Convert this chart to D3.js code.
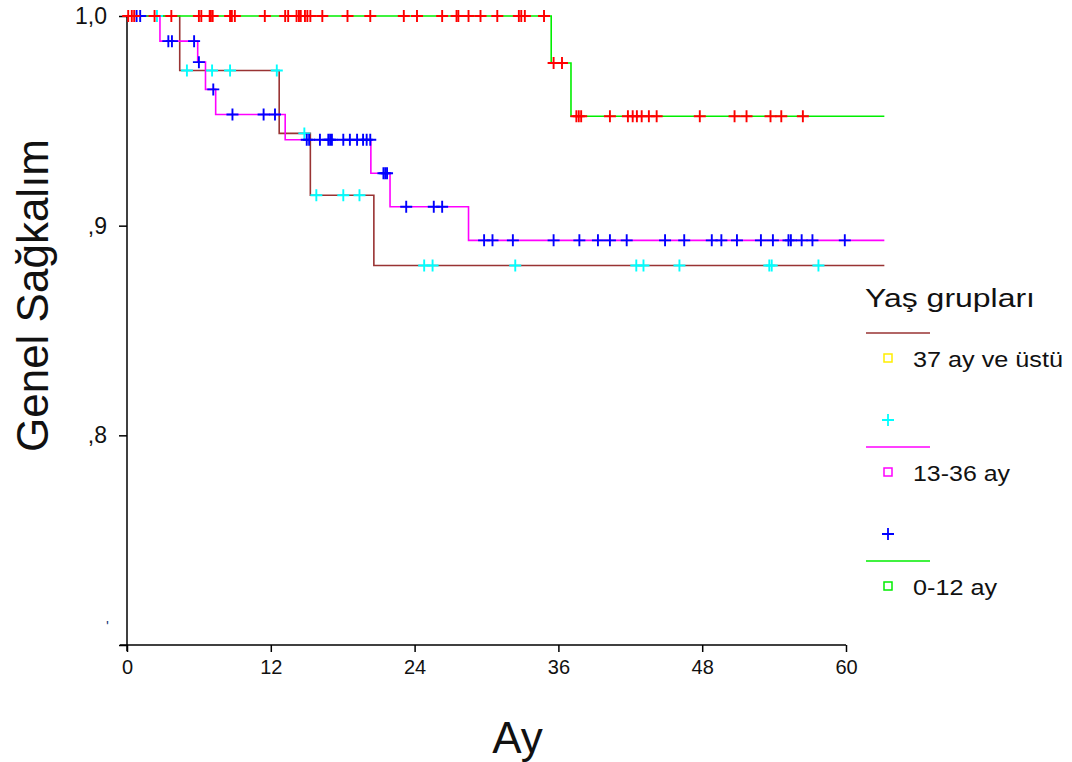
<!DOCTYPE html>
<html lang="tr">
<head>
<meta charset="UTF-8">
<title>Genel Sağkalım - Yaş grupları</title>
<style>
    body{ margin:0; background:#fff; }
    svg{ display:block; background:#fff; }
    .axis path, .axis line{ stroke:#000; stroke-width:1.5px; }
    .tick-label{ font-family:"Liberation Sans", Arial, sans-serif; fill:#111; }
    .kmLine{ fill:none; stroke-width:1.6px; }
    .censor{ stroke-width:1.9px; }
    .legend text{ font-family:"Liberation Sans", Arial, sans-serif; fill:#111; }
</style>
<script src="https://cdn.jsdelivr.net/npm/d3@7"></script>
</head>
<body>
<script>
    // group names (legend order)
    const groupNames = ["37 ay ve üstü", "13-36 ay", "0-12 ay"];

    // 37 ay ve üstü : step times / survival / censored times
    const times37 = [0, 4.4, 12.7, 15.3, 20.6];
    const surv37 = [1, 0.974, 0.944, 0.9145, 0.881];
    const censor37 = [2.5, 5.0, 7.1, 8.6, 12.5, 14.8, 15.8, 18.05, 19.4,
        24.8, 25.5, 32.4, 42.5, 43.1, 46.1, 53.6, 53.8, 57.7];

    // 13-36 ay
    const times1336 = [0, 2.75, 5.9, 6.55, 7.4, 13.2, 20.35, 21.95, 28.5];
    const surv1336 = [1, 0.988, 0.978, 0.965, 0.953, 0.941, 0.925, 0.909, 0.893];
    const censor1336 = [0.8, 1.1, 3.45, 3.75, 5.6, 6.0, 7.2, 8.8, 11.4, 12.35,
        15.0, 15.2, 16.1, 16.8, 16.95, 17.1, 18.05, 18.6, 19.2, 19.7, 20.0, 20.3,
        21.4, 21.55, 21.7, 23.3, 25.6, 26.3,
        29.8, 30.5, 32.2, 35.6, 37.75, 39.3, 40.3, 41.7, 44.9, 46.5, 48.8, 49.6,
        50.9, 52.9, 53.9, 55.2, 55.4, 56.3, 57.2, 59.9];

    // 0-12 ay
    const times012 = [0, 35.4, 37.05];
    const surv012 = [1, 0.9776, 0.9522];
    const censor012 = [0.1, 0.4, 0.6, 2.3, 3.7, 6.0, 6.2, 6.9, 7.0, 7.15, 8.6, 8.75, 9.0,
        11.5, 13.2, 13.45, 14.15, 14.35, 14.5, 14.85, 15.05, 15.3, 16.3, 18.4, 20.3,
        23.1, 24.2, 26.3, 27.5, 27.65, 28.5, 29.5, 30.9, 32.7, 32.9, 33.2, 34.8,
        35.6, 36.3,
        37.5, 37.7, 37.9, 40.3, 41.8, 42.2, 42.55, 42.95, 43.55, 44.2,
        47.8, 50.7, 51.7, 53.7, 54.6, 56.4];

    const followEnd = 63.2;

    // axis ticks
    const xTicks = [0, 12, 24, 36, 48, 60];
    const yTicks = [0.7, 0.8, 0.9, 1.0];
    const yTickLabels = ["", ",8", ",9", "1,0"];

    const width = 1072, height = 762;
    const svg = d3.select("body").append("svg")
        .attr("width", width)
        .attr("height", height);

    const xScale = d3.scaleLinear().domain([0, 60]).range([127, 846]);
    const yScale = d3.scaleLinear().domain([0.7, 1.0]).range([645, 16]);

    const groups = [
        {name: groupNames[0], times: times37, surv: surv37, censor: censor37, line: "#993333", mark: "#00ffff", box: "#ffee00", textLen: 150},
        {name: groupNames[1], times: times1336, surv: surv1336, censor: censor1336, line: "#ff00ff", mark: "#0000ff", box: "#ff00ff", textLen: 97},
        {name: groupNames[2], times: times012, surv: surv012, censor: censor012, line: "#00ee00", mark: "#ff0000", box: "#00ee00", textLen: 84}
    ];

    // x axis
    const xAxis = svg.append("g").attr("class", "axis")
        .attr("transform", `translate(0,${yScale(0.7)})`)
        .call(d3.axisBottom(xScale).tickValues(xTicks).tickSize(7).tickSizeOuter(0).tickFormat(d3.format("d")));
    xAxis.select(".domain").attr("d", `M${xScale(0) - 7},0H${xScale(60)}`);
    xAxis.selectAll("text")
        .attr("class", "tick-label")
        .attr("font-size", "20px")
        .attr("dy", "0.95em");

    // y axis
    const yAxis = svg.append("g").attr("class", "axis")
        .attr("transform", `translate(${xScale(0)},0)`)
        .call(d3.axisLeft(yScale).tickValues(yTicks).tickSize(8).tickSizeOuter(0).tickFormat((d, i) => yTickLabels[i]));
    yAxis.select(".domain").attr("d", `M0,${yScale(1.0)}V${yScale(0.7) + 6}`);
    yAxis.selectAll("text")
        .attr("class", "tick-label")
        .attr("font-size", "23px")
        .attr("x", -20);

    // stray mark left of the lowest tick
    svg.append("text")
        .attr("x", xScale(0) - 21)
        .attr("y", yScale(0.7) - 14)
        .attr("font-family", "Liberation Sans, Arial, sans-serif")
        .attr("font-size", "15px")
        .attr("fill", "#1f3a7a")
        .text("'");

    // axis titles
    svg.append("text")
        .attr("transform", `translate(48,${(yScale(1.0) + yScale(0.7)) / 2 - 35}) rotate(-90)`)
        .attr("text-anchor", "middle")
        .attr("font-family", "Liberation Sans, Arial, sans-serif")
        .attr("font-size", "44px")
        .attr("fill", "#111")
        .text("Genel Sağkalım");

    svg.append("text")
        .attr("x", (xScale(0) + xScale(60)) / 2 + 31)
        .attr("y", 753)
        .attr("text-anchor", "middle")
        .attr("font-family", "Liberation Sans, Arial, sans-serif")
        .attr("font-size", "44px")
        .attr("fill", "#111")
        .text("Ay");

    // KM step lines
    const stepLine = d3.line()
        .x(d => xScale(d[0]))
        .y(d => yScale(d[1]))
        .curve(d3.curveStepAfter);

    svg.append("g").selectAll("path")
        .data(groups)
        .enter()
        .append("path")
        .attr("class", "kmLine")
        .attr("stroke", d => d.line)
        .attr("d", d => {
            const pts = d.times.map((t, i) => [t, d.surv[i]]);
            pts.push([followEnd, d.surv[d.surv.length - 1]]);
            return stepLine(pts);
        });

    // censor marks
    const survAt = (g, t) => g.surv[d3.bisectRight(g.times, t) - 1];
    const ph = 6;
    groups.forEach(g => {
        svg.append("g").selectAll("path")
            .data(g.censor)
            .enter()
            .append("path")
            .attr("class", "censor")
            .attr("stroke", g.mark)
            .attr("d", t => {
                const cx = xScale(t), cy = yScale(survAt(g, t));
                return `M${cx - ph},${cy}H${cx + ph}M${cx},${cy - ph}V${cy + ph}`;
            });
    });

    // legend
    const legend = svg.append("g").attr("class", "legend");
    legend.append("text")
        .attr("x", 865)
        .attr("y", 307)
        .attr("font-size", "25px")
        .attr("textLength", 170)
        .attr("lengthAdjust", "spacingAndGlyphs")
        .text("Yaş grupları");

    const legendRows = legend.selectAll("g.row")
        .data(groups)
        .enter()
        .append("g")
        .attr("class", "row")
        .attr("transform", (d, i) => `translate(0,${333 + i * 114})`);

    legendRows.append("line")
        .attr("x1", 866).attr("x2", 930)
        .attr("y1", 0).attr("y2", 0)
        .attr("stroke", d => d.line)
        .attr("stroke-width", 1.6);

    legendRows.append("rect")
        .attr("x", 884).attr("y", 21)
        .attr("width", 8).attr("height", 8)
        .attr("fill", "none")
        .attr("stroke", d => d.box)
        .attr("stroke-width", 1.5);

    legendRows.append("text")
        .attr("x", 913)
        .attr("y", 34)
        .attr("font-size", "22px")
        .attr("textLength", d => d.textLen)
        .attr("lengthAdjust", "spacingAndGlyphs")
        .text(d => d.name);

    legendRows.append("path")
        .attr("stroke", d => d.mark)
        .attr("stroke-width", 1.8)
        .attr("d", (d, i) => {
            const cx = 888, cy = i === 2 ? 302 : 87;
            return `M${cx - ph},${cy}H${cx + ph}M${cx},${cy - ph}V${cy + ph}`;
        });
</script>
</body>
</html>
